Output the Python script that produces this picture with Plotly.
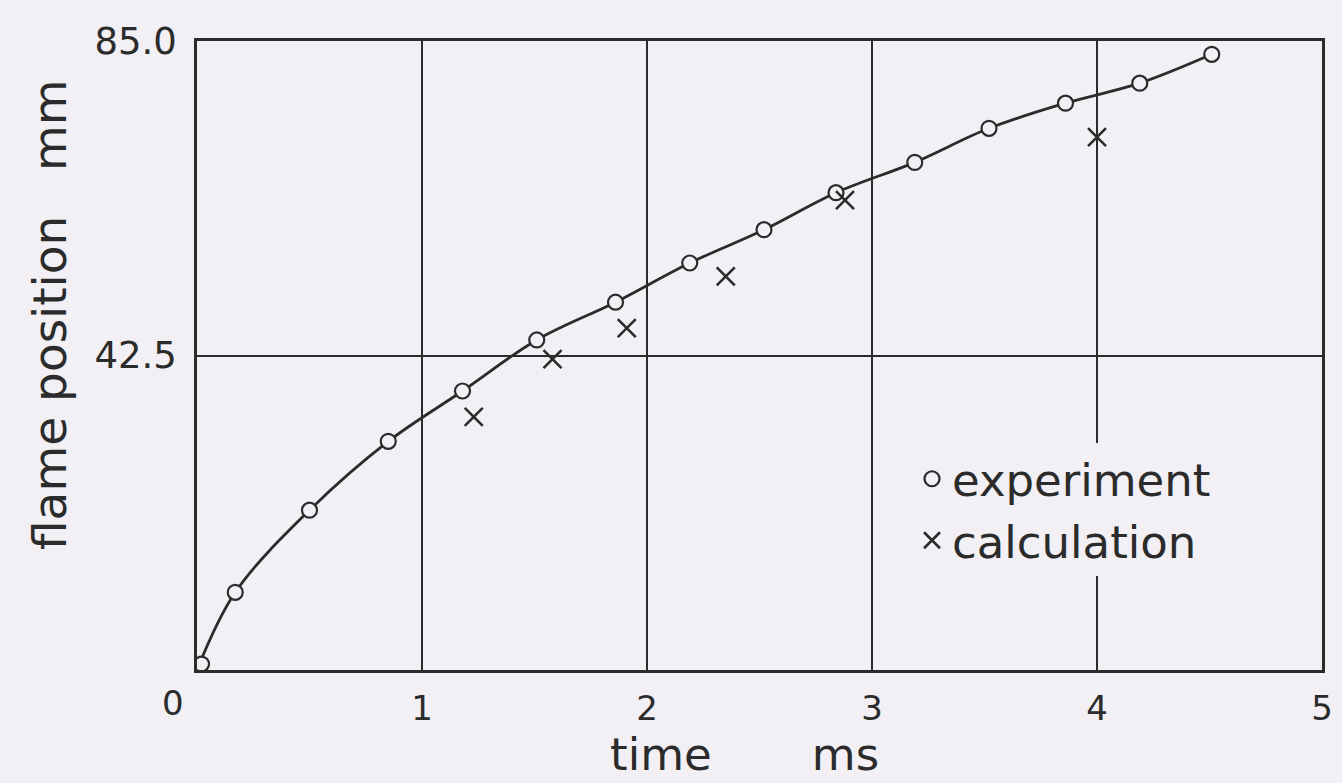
import plotly.graph_objects as go

# ---- data ----
exp_t = [0.02, 0.17, 0.50, 0.85, 1.18, 1.51, 1.86, 2.19, 2.52, 2.84, 3.19, 3.52, 3.86, 4.19, 4.51]
exp_v = [0.8, 10.5, 21.6, 30.9, 37.7, 44.6, 49.7, 55.0, 59.5, 64.5, 68.6, 73.2, 76.6, 79.3, 83.2]

calc_t = [1.23, 1.58, 1.91, 2.35, 2.88, 4.00]
calc_v = [34.2, 42.0, 46.2, 53.2, 63.5, 72.0]

curve_t = [0.0, 0.17, 0.50, 0.85, 1.18, 1.51, 1.86, 2.19, 2.52, 2.84, 3.19, 3.52, 3.86, 4.19, 4.51]
curve_v = [0.0, 10.5, 21.6, 30.9, 37.7, 44.6, 49.7, 55.0, 59.5, 64.5, 68.6, 73.2, 76.6, 79.3, 83.2]

x_ticks = [1, 2, 3, 4, 5]
x_ticktext = ["1", "2", "3", "4", "5"]
y_ticks = [42.5, 85.0]
y_ticktext = ["42.5", "85.0"]

BG = "#f2f0f4"
INK = "#2b2b2b"
FONT = "DejaVu Sans"

W, H = 1342, 783
ML, MR, MT, MB = 197, 20, 41, 113
PW, PH = W - ML - MR, H - MT - MB


def px_x(p):
    return (p - ML) / PW


def px_y(p):
    return (H - MB - p) / PH


fig = go.Figure()

fig.add_trace(go.Scatter(
    x=curve_t, y=curve_v, mode="lines",
    line=dict(color=INK, width=2.8, shape="spline", smoothing=1.0),
    showlegend=False, hoverinfo="skip",
))
fig.add_trace(go.Scatter(
    x=exp_t, y=exp_v, mode="markers", name="experiment",
    marker=dict(symbol="circle", size=15, color=BG, line=dict(color=INK, width=2.2)),
))
fig.add_trace(go.Scatter(
    x=calc_t, y=calc_v, mode="markers", name="calculation",
    marker=dict(symbol="x-thin", size=18, color=INK, line=dict(color=INK, width=2.6)),
))

fig.update_layout(
    width=W, height=H,
    margin=dict(l=ML, r=MR, t=MT, b=MB, autoexpand=False),
    paper_bgcolor=BG, plot_bgcolor=BG,
    font=dict(family=FONT, color=INK),
    showlegend=True,
    legend=dict(
        x=px_x(912), y=px_y(443), xanchor="left", yanchor="top",
        bgcolor=BG, borderwidth=0,
        font=dict(size=45, family=FONT, color=INK),
        itemsizing="trace",
    ),
    xaxis=dict(
        range=[0, 5], tickvals=x_ticks, ticktext=x_ticktext, automargin=False,
        showgrid=True, gridcolor=INK, gridwidth=2,
        showline=True, linecolor=INK, linewidth=2.5, mirror=True,
        zeroline=False, ticks="", tickfont=dict(size=34, family=FONT, color=INK),
        ticklabelstandoff=6, ticklabeloverflow="allow",
    ),
    yaxis=dict(
        range=[0, 85], tickvals=y_ticks, ticktext=y_ticktext, automargin=False,
        showgrid=True, gridcolor=INK, gridwidth=2,
        showline=True, linecolor=INK, linewidth=2.5, mirror=True,
        zeroline=False, ticks="", tickfont=dict(size=37, family=FONT, color=INK),
        ticklabelstandoff=10,
    ),
    annotations=[
        dict(text="0", xref="paper", yref="paper", x=0, y=0, xanchor="center", yanchor="middle",
             xshift=-24, yshift=-33, showarrow=False, font=dict(size=34, family=FONT, color=INK)),
        dict(text="time\u00a0\u00a0\u00a0\u00a0\u00a0\u00a0\u00a0ms", xref="paper", yref="paper",
             x=px_x(744), y=0, xanchor="center", yanchor="middle", yshift=-84,
             showarrow=False, font=dict(size=45, family=FONT, color=INK)),
        dict(text="flame position\u00a0\u00a0\u00a0mm", xref="paper", yref="paper",
             x=0, y=px_y(315), xanchor="center", yanchor="middle", xshift=-148,
             textangle=-90, showarrow=False, font=dict(size=47, family=FONT, color=INK)),
    ],
)

fig.write_html("out.html")
